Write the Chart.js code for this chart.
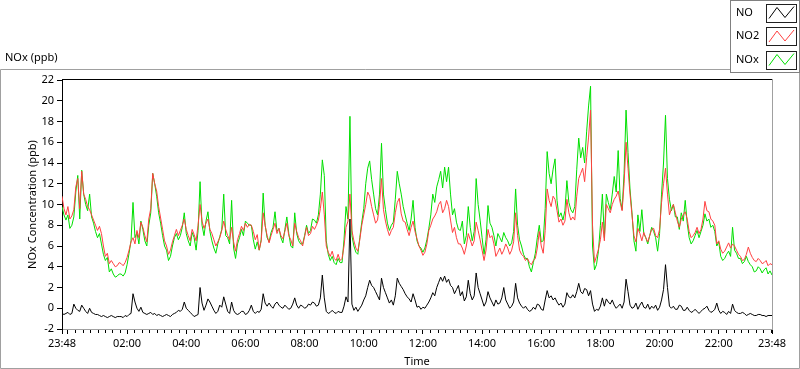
<!DOCTYPE html>
<html>
<head>
<meta charset="utf-8">
<title>NOx</title>
<script src="https://cdn.jsdelivr.net/npm/chart.js"></script>
<style>
  html, body { margin: 0; padding: 0; background: #fff; }
  #wrap { width: 800px; height: 369px; }
</style>
</head>
<body>
<div id="wrap"><canvas id="noxChart" width="800" height="369"></canvas></div>
<script>
// one reading every 4 minutes, starting 23:48
const stepMinutes = 4;

const no = [
  -0.5, -0.6, -0.5, -0.4, -0.6, -0.5, 0.4, 0.0, -0.2, -0.3,
  0.3, 0.0, -0.3, -0.5, 0.0, -0.4, -0.5, -0.6, -0.6, -0.7,
  -0.8, -0.7, -0.8, -0.9, -0.8, -0.7, -0.8, -0.9, -0.8, -0.8,
  -0.8, -0.9, -0.7, -0.8, -0.6, -0.5, 1.4, 0.6, 0.0, -0.3,
  0.1, -0.4, -0.5, -0.6, -0.5, -0.4, -0.6, -0.5, -0.7, -0.6,
  -0.7, -0.8, -0.7, -0.6, -0.7, -0.8, -0.6, -0.5, -0.4, -0.2,
  -0.3, -0.1, 0.6, 0.0, -0.2, -0.4, -0.6, -0.8, -0.7, -0.6,
  2.0, 0.5, -0.2, 0.3, 0.9, 0.6, 0.2, -0.2, -0.5, -0.3,
  0.3, 0.1, 1.1, 0.4, -0.3, -0.5, 0.6, -0.2, -0.5, -0.6,
  -0.5, -0.3, -0.3, -0.6, -0.5, -0.2, 0.3, -0.3, -0.5, -0.3,
  -0.4, -0.1, 1.4, 0.5, 0.2, 0.5, 0.2, 0.0, 0.4, 0.6,
  0.3, 0.1, 0.0, 0.3, 0.1, -0.1, 0.0, 0.4, 1.0, 0.3,
  0.0, 0.3, 0.2, 0.0, 0.1, 0.4, 0.3, 0.6, 0.5, 0.2,
  0.3, 1.0, 3.2, 1.0, -0.3, -0.5, -0.4, -0.2, -0.4, -0.5,
  -0.3, -0.4, -0.4, 0.2, 1.1, 0.6, 8.6, 0.4, -0.2, 0.1,
  -0.3, 0.0, 0.3, 0.8, 1.2, 2.0, 2.7, 2.2, 2.0, 1.6,
  1.2, 0.8, 2.9, 2.0, 1.5, 1.0, 0.5, 0.8, 0.3, 1.2,
  2.9, 2.4, 2.1, 1.8, 1.4, 1.1, 0.9, 0.6, 1.4, 0.8,
  0.1, 0.2, -0.1, 0.1, 0.0, 0.3, 0.6, 1.0, 1.5, 1.2,
  2.0, 2.5, 3.0, 2.6, 3.1, 2.5, 2.8, 2.2, 2.0, 1.4,
  1.8, 2.2, 1.2, 1.6, 0.7, 1.1, 2.7, 1.4, 0.8, 1.2,
  3.4, 2.0, 1.4, 0.8, 0.2, 0.6, 1.6, 1.0, 0.6, 0.2,
  0.8, 0.4, 0.5, 1.0, 2.0, 0.8, 0.4, 0.0, 0.2, 0.6,
  2.4, 1.0, 0.5, 0.2, 0.0, 0.2, -0.1, -0.3, -0.2, 0.1,
  -0.1, 0.4, 0.3, -0.1, -0.2, 0.8, 1.7, 1.0, 1.2, 0.8,
  1.0, 0.6, 0.3, 0.5, 0.1, 0.4, 1.5, 1.1, 1.0, 1.3,
  1.0, 1.6, 2.4, 1.6, 1.4, 1.9, 1.8, 1.2, 1.7, 0.4,
  -0.3, -0.1, -0.2, 0.2, 1.0, 0.2, 0.9, 0.6, 0.4, 0.8,
  0.3, 0.0, 0.2, 0.4, 0.0, 0.6, 2.8, 1.6, 0.3, 0.0,
  0.1, 0.5, -0.1, 0.3, 0.6, 0.1, 0.0, 0.4, -0.1, 0.2,
  0.0, 0.3, -0.2, 0.1, 0.8, 1.8, 4.2, 2.0, 0.2, 0.0,
  0.2, -0.1, -0.1, 0.3, 0.2, -0.2, -0.2, 0.1, -0.2, -0.4,
  -0.3, -0.1, -0.3, -0.5, -0.3, -0.1, 0.0, 0.2, -0.2, -0.4,
  -0.3, -0.1, 0.5, -0.2, -0.5, -0.3, -0.4, -0.6, -0.3, -0.5,
  0.4, -0.2, -0.4, -0.5, -0.5, -0.4, -0.5, -0.7, -0.6, -0.5,
  -0.6, -0.7, -0.7, -0.6, -0.6, -0.7, -0.7, -0.8, -0.7, -0.7,
  -0.7
];

const no2 = [
  10.8, 9.6, 9.0, 9.8, 8.6, 8.9, 9.5, 11.7, 12.5, 9.6,
  13.2, 11.0, 10.5, 9.8, 9.5, 9.0, 8.5, 8.0, 7.5, 7.9,
  7.2, 6.0, 5.0, 5.3, 4.3, 4.6, 4.3, 4.0, 4.1, 4.4,
  4.3, 4.1, 4.4, 4.9, 5.6, 6.4, 6.8, 6.2, 7.5, 6.8,
  8.3, 7.8, 7.0, 6.4, 8.6, 9.6, 13.0, 12.0, 11.3, 9.8,
  8.7, 7.6, 6.5, 6.0, 5.2, 5.6, 6.4, 7.0, 7.6, 7.0,
  7.5, 8.0, 8.6, 7.6, 7.0, 6.5, 7.6, 7.1, 6.5, 8.0,
  10.0, 8.4, 7.7, 8.2, 8.6, 7.6, 7.2, 6.6, 6.0, 6.4,
  6.8, 7.5, 8.4, 7.6, 7.0, 6.6, 7.8, 6.4, 5.5, 6.6,
  7.2, 7.9, 7.5, 8.2, 7.8, 8.1, 8.0, 7.4, 6.6, 7.1,
  5.6, 6.5, 9.2, 8.0, 7.0, 6.3, 7.0, 7.6, 8.2, 7.2,
  7.7, 7.0, 6.7, 7.4, 8.2, 7.0, 6.6, 6.0, 8.2, 7.4,
  6.8, 6.5, 6.0, 6.9, 7.8, 7.0, 7.2, 7.9, 7.6, 8.0,
  8.5, 9.6, 11.2, 9.0, 6.0, 5.4, 5.0, 5.5, 4.8, 4.6,
  5.2, 4.6, 4.8, 6.0, 7.8, 8.4, 11.0, 7.5, 6.5, 5.8,
  5.5, 6.6, 8.0, 9.0, 10.0, 11.2, 10.8, 9.8, 9.0, 8.2,
  8.5, 10.0, 12.5, 9.5, 8.4, 7.6, 7.0, 7.5, 7.8, 9.2,
  10.2, 10.6, 9.1, 8.4, 8.3, 7.6, 7.0, 7.8, 8.4, 7.4,
  6.7, 6.0, 5.6, 5.1, 5.4, 6.2, 7.5, 8.0, 8.6, 8.9,
  9.3, 10.0, 10.3, 9.2, 9.6, 10.4, 9.8, 8.5, 7.3, 7.8,
  6.8, 6.2, 6.2, 5.8, 5.2, 6.0, 7.2, 6.6, 6.0, 6.5,
  8.3, 7.5, 6.6, 5.6, 4.6, 5.6, 7.6, 6.8, 7.0, 6.2,
  5.0, 5.4, 5.8, 5.2, 5.6, 6.2, 5.8, 5.2, 5.6, 6.4,
  9.2, 7.0, 5.6, 5.2, 5.0, 4.6, 4.8, 4.4, 4.2, 4.6,
  4.8, 5.8, 7.4, 6.0, 5.3, 7.5, 11.5, 10.4, 9.8, 10.8,
  10.5, 9.4, 8.3, 8.6, 8.0, 8.4, 10.5, 9.2, 8.5, 8.8,
  8.5, 10.8, 12.5, 13.0, 13.5, 12.2, 14.5, 16.5, 19.1, 8.0,
  4.4, 5.0, 5.7, 6.6, 8.3, 6.5, 10.0, 9.6, 9.2, 10.0,
  10.5, 10.8, 11.3, 10.2, 9.4, 12.0, 16.0, 13.5, 11.0, 9.0,
  7.0, 6.4, 7.7, 7.2, 6.5, 7.3, 6.8, 6.4, 7.0, 7.6,
  7.7, 7.0, 6.8, 7.6, 10.2, 12.0, 13.5, 11.0, 9.0, 9.6,
  10.0, 9.2, 8.4, 7.8, 8.6, 9.0, 9.3, 8.6, 7.4, 6.8,
  7.0, 7.3, 7.8, 7.2, 7.6, 8.6, 10.3, 9.4, 9.3, 8.6,
  8.4, 8.0, 6.2, 6.5, 5.7, 5.3, 5.5, 5.9, 6.3, 5.8,
  6.2, 6.0, 5.6, 5.2, 5.0, 4.6, 4.7, 5.2, 5.9, 5.3,
  4.9, 4.6, 4.5, 4.8, 4.6, 4.3, 4.4, 4.6, 4.1, 4.3,
  4.2
];

const nox = [
  9.8, 9.0, 8.5, 9.0, 7.7, 8.0, 8.8, 11.2, 12.8, 8.6,
  13.3, 11.0, 10.0, 9.4, 11.0, 8.8, 8.2, 7.4, 6.8, 7.2,
  6.2, 5.2, 4.6, 4.9, 3.5, 3.8, 3.3, 3.0, 3.1, 3.3,
  3.3, 3.1, 3.4, 4.2, 5.3, 6.5, 10.2, 6.8, 7.3, 6.2,
  8.4, 7.6, 6.5, 6.0, 8.0, 9.2, 13.0, 12.0, 10.8, 9.2,
  8.2, 7.0, 6.0, 5.6, 4.6, 5.0, 6.0, 6.8, 7.2, 6.6,
  7.0, 7.8, 9.2, 7.2, 6.5, 6.0, 7.3, 6.8, 5.6, 7.5,
  12.2, 8.0, 7.0, 8.4, 9.3, 7.4, 6.5, 5.8, 5.3, 6.2,
  6.9, 7.6, 11.0, 7.0, 6.8, 6.2, 10.4, 5.8, 4.8, 6.2,
  6.8, 7.6, 7.0, 8.4, 8.2, 8.0, 8.0, 6.6, 5.7, 6.4,
  5.6, 6.6, 11.1, 8.0, 6.8, 6.4, 7.3, 7.8, 9.3, 7.4,
  7.7, 6.8, 6.3, 7.6, 8.8, 7.2, 6.0, 5.8, 9.2, 7.2,
  6.5, 6.2, 6.2, 7.0, 8.0, 7.2, 7.5, 8.6, 8.5, 8.2,
  9.0, 11.0, 14.3, 12.8, 6.5, 5.2, 4.6, 5.0, 4.4, 4.2,
  4.8, 4.4, 4.4, 6.6, 9.8, 8.6, 18.5, 7.0, 6.0, 5.4,
  5.2, 6.8, 8.3, 9.6, 12.0, 13.5, 14.2, 12.4, 11.0, 9.6,
  9.0, 11.0, 15.9, 11.0, 9.5, 8.2, 7.5, 8.0, 8.3, 10.5,
  13.2, 12.0, 11.0, 9.8, 9.0, 8.2, 7.5, 8.6, 10.4, 7.8,
  6.5, 6.0, 5.8, 5.4, 5.8, 6.6, 7.7, 9.0, 11.0, 10.2,
  11.7, 12.4, 13.2, 11.6, 13.6, 12.2, 13.6, 11.0, 9.0, 9.6,
  8.3, 7.6, 7.5, 8.4, 6.2, 7.0, 9.8, 7.8, 6.5, 7.4,
  12.5, 10.0, 8.5, 6.8, 5.2, 6.6, 9.9, 8.2, 7.8, 7.0,
  6.0, 7.2, 6.8, 6.4, 7.3, 6.8, 6.5, 6.0, 6.3, 7.4,
  11.5, 8.0, 6.6, 6.0, 5.2, 4.8, 4.8, 4.0, 3.5, 4.4,
  5.3, 6.8, 8.0, 6.4, 6.5, 9.6, 15.1, 13.0, 12.0, 13.4,
  14.4, 10.4, 8.8, 9.2, 8.5, 9.4, 12.3, 10.2, 9.5, 9.2,
  9.8, 13.4, 16.4, 14.5, 15.5, 14.0, 17.0, 19.5, 21.4, 6.0,
  3.7, 4.2, 5.5, 8.0, 11.0, 6.8, 11.0, 10.2, 9.5, 11.0,
  12.7, 11.2, 15.2, 10.6, 9.5, 13.0, 19.1, 15.0, 11.5, 9.2,
  6.5, 5.5, 9.0, 7.4, 9.5, 7.2, 6.8, 6.2, 7.0, 7.8,
  7.4, 6.8, 5.5, 7.2, 11.0, 14.0, 18.6, 12.5, 10.5, 9.4,
  10.0, 8.8, 8.8, 7.6, 9.2, 8.4, 10.4, 8.2, 6.8, 6.2,
  6.5, 7.0, 7.5, 6.8, 7.4, 8.0, 9.1, 8.4, 8.6, 7.8,
  8.0, 7.4, 6.0, 6.4, 5.0, 4.6, 4.8, 5.2, 5.5, 5.0,
  7.8, 5.6, 5.3, 4.8, 4.8, 4.3, 4.5, 5.0, 4.5, 4.2,
  4.0, 3.5, 3.6, 4.0, 3.8, 3.4, 3.7, 3.9, 3.3, 3.6,
  3.2
];

// x axis: minutes after 23:48
const xTickMinutes = [0, 12, 132, 252, 372, 492, 612, 732, 852, 972, 1092, 1212, 1332, 1440];
const xTickLabels = ['23:48', '', '02:00', '04:00', '06:00', '08:00', '10:00', '12:00', '14:00', '16:00', '18:00', '20:00', '22:00', '23:48'];
const yTicks = [-2, 0, 2, 4, 6, 8, 10, 12, 14, 16, 18, 20, 22];

const FONT = '"Noto Sans", "DejaVu Sans", sans-serif';
const FONT_SIZE = 11;

const toPoints = arr => arr.map((v, i) => ({ x: i * stepMinutes, y: v }));

// grey outer frame + panel caption
const framePlugin = {
    id: 'frame',
    beforeDraw(chart) {
        const ctx = chart.ctx;
        ctx.save();
        ctx.fillStyle = '#fff';
        ctx.fillRect(0, 0, chart.width, chart.height);
        ctx.strokeStyle = '#a0a0a0';
        ctx.lineWidth = 1;
        ctx.beginPath();
        ctx.moveTo(730, 69.5);
        ctx.lineTo(0.5, 69.5);
        ctx.lineTo(0.5, 368.5);
        ctx.lineTo(799.5, 368.5);
        ctx.lineTo(799.5, 72);
        ctx.stroke();
        ctx.fillStyle = '#000';
        ctx.font = FONT_SIZE + 'px ' + FONT;
        ctx.textBaseline = 'middle';
        ctx.fillText('NOx (ppb)', 5, 58);
        ctx.restore();
    },
    afterDraw(chart) {
        // top / right edges of the plot area, plus 15 min minor ticks
        const { ctx, chartArea: a, scales: { x } } = chart;
        ctx.save();
        ctx.lineWidth = 1;
        ctx.strokeStyle = '#000';
        ctx.beginPath();
        ctx.moveTo(a.left, a.top - 0.5);
        ctx.lineTo(a.right, a.top - 0.5);
        ctx.stroke();
        ctx.strokeStyle = '#a0a0a0';
        ctx.beginPath();
        ctx.moveTo(a.right + 0.5, a.top - 1);
        ctx.lineTo(a.right + 0.5, a.bottom);
        ctx.stroke();
        ctx.strokeStyle = '#000';
        ctx.beginPath();
        for (let m = 27; m < 1440; m += 15) {
            if ((m - 12) % 120 === 0) continue;
            const px = Math.round(x.getPixelForValue(m)) + 0.5;
            ctx.moveTo(px, a.bottom + 1);
            ctx.lineTo(px, a.bottom + 4);
        }
        ctx.stroke();
        ctx.restore();
    }
};

// LabVIEW-style plot legend in the top right corner
const legendPlugin = {
    id: 'plotLegend',
    afterDraw(chart) {
        const ctx = chart.ctx;
        ctx.save();
        ctx.fillStyle = '#fff';
        ctx.fillRect(730, 0, 70, 73);
        ctx.strokeStyle = '#808080';
        ctx.lineWidth = 1;
        ctx.strokeRect(730.5, 0.5, 69, 72);
        ctx.font = FONT_SIZE + 'px ' + FONT;
        ctx.textBaseline = 'middle';
        chart.data.datasets.forEach((ds, i) => {
            const cy = 12.5 + i * 23.5;
            ctx.fillStyle = '#000';
            ctx.fillText(ds.label, 736, cy);
            ctx.strokeStyle = '#202020';
            ctx.strokeRect(766.5, Math.round(cy - 9) + 0.5, 30, 18);
            ctx.strokeStyle = ds.borderColor;
            ctx.beginPath();
            ctx.moveTo(769, cy + 6);
            ctx.lineTo(777, cy - 5);
            ctx.lineTo(785, cy + 5);
            ctx.lineTo(794, cy - 6);
            ctx.stroke();
        });
        ctx.restore();
    }
};

new Chart(document.getElementById('noxChart'), {
    type: 'line',
    data: {
        datasets: [
            { label: 'NO', data: toPoints(no), borderColor: '#000000' },
            { label: 'NO2', data: toPoints(no2), borderColor: '#ff4040' },
            { label: 'NOx', data: toPoints(nox), borderColor: '#00e000' }
        ]
    },
    options: {
        responsive: false,
        animation: false,
        events: [],
        elements: {
            line: { borderWidth: 1, tension: 0 },
            point: { radius: 0 }
        },
        layout: { padding: { top: 80, right: 28, left: 0, bottom: 0 } },
        plugins: { legend: { display: false }, tooltip: { enabled: false } },
        scales: {
            x: {
                type: 'linear',
                min: 0,
                max: 1440,
                afterFit: s => { s.height = 40; },
                afterBuildTicks: s => { s.ticks = xTickMinutes.map(v => ({ value: v })); },
                ticks: {
                    autoSkip: false,
                    maxRotation: 0,
                    padding: 3,
                    color: '#000',
                    font: { family: FONT, size: FONT_SIZE },
                    callback: v => xTickLabels[xTickMinutes.indexOf(v)]
                },
                grid: { drawOnChartArea: false, tickLength: 5, color: '#000' },
                border: { color: '#a0a0a0' },
                title: {
                    display: true,
                    text: 'Time',
                    color: '#000',
                    font: { family: FONT, size: FONT_SIZE },
                    padding: { top: 0, bottom: 1 }
                }
            },
            y: {
                min: -2,
                max: 22,
                afterFit: s => { s.width = 62; },
                afterBuildTicks: s => { s.ticks = yTicks.map(v => ({ value: v })); },
                ticks: {
                    padding: 3,
                    color: '#000',
                    font: { family: FONT, size: FONT_SIZE }
                },
                grid: { drawOnChartArea: false, tickLength: 5, color: '#000' },
                border: { color: '#000' },
                title: {
                    display: true,
                    text: 'NOx Concentration (ppb)',
                    color: '#000',
                    font: { family: FONT, size: FONT_SIZE },
                    padding: { top: 26, bottom: 0 }
                }
            }
        }
    },
    plugins: [framePlugin, legendPlugin]
});
</script>
</body>
</html>
